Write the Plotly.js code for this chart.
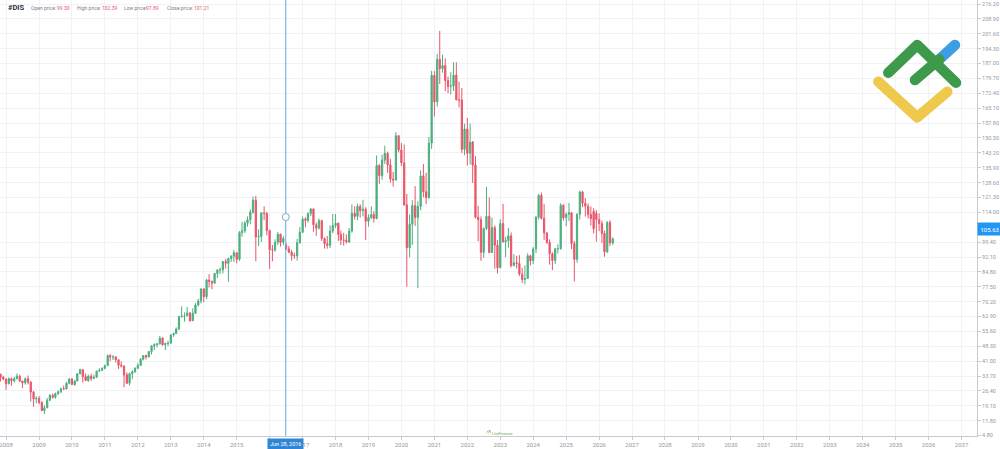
<!DOCTYPE html>
<html><head><meta charset="utf-8">
<script src="https://cdn.plot.ly/plotly-3.0.1.min.js"></script>
<style>html,body{margin:0;padding:0;background:#fff;overflow:hidden}#chart{width:1000px;height:449px}</style>
</head><body><div id="chart"></div>
<script>
const symbol = '#DIS';
const months = [
'2007-11','2007-12',
'2008-01','2008-02','2008-03','2008-04','2008-05','2008-06','2008-07','2008-08','2008-09','2008-10','2008-11','2008-12',
'2009-01','2009-02','2009-03','2009-04','2009-05','2009-06','2009-07','2009-08','2009-09','2009-10','2009-11','2009-12',
'2010-01','2010-02','2010-03','2010-04','2010-05','2010-06','2010-07','2010-08','2010-09','2010-10','2010-11','2010-12',
'2011-01','2011-02','2011-03','2011-04','2011-05','2011-06','2011-07','2011-08','2011-09','2011-10','2011-11','2011-12',
'2012-01','2012-02','2012-03','2012-04','2012-05','2012-06','2012-07','2012-08','2012-09','2012-10','2012-11','2012-12',
'2013-01','2013-02','2013-03','2013-04','2013-05','2013-06','2013-07','2013-08','2013-09','2013-10','2013-11','2013-12',
'2014-01','2014-02','2014-03','2014-04','2014-05','2014-06','2014-07','2014-08','2014-09','2014-10','2014-11','2014-12',
'2015-01','2015-02','2015-03','2015-04','2015-05','2015-06','2015-07','2015-08','2015-09','2015-10','2015-11','2015-12',
'2016-01','2016-02','2016-03','2016-04','2016-05','2016-06','2016-07','2016-08','2016-09','2016-10','2016-11','2016-12',
'2017-01','2017-02','2017-03','2017-04','2017-05','2017-06','2017-07','2017-08','2017-09','2017-10','2017-11','2017-12',
'2018-01','2018-02','2018-03','2018-04','2018-05','2018-06','2018-07','2018-08','2018-09','2018-10','2018-11','2018-12',
'2019-01','2019-02','2019-03','2019-04','2019-05','2019-06','2019-07','2019-08','2019-09','2019-10','2019-11','2019-12',
'2020-01','2020-02','2020-03','2020-04','2020-05','2020-06','2020-07','2020-08','2020-09','2020-10','2020-11','2020-12',
'2021-01','2021-02','2021-03','2021-04','2021-05','2021-06','2021-07','2021-08','2021-09','2021-10','2021-11','2021-12',
'2022-01','2022-02','2022-03','2022-04','2022-05','2022-06','2022-07','2022-08','2022-09','2022-10','2022-11','2022-12',
'2023-01','2023-02','2023-03','2023-04','2023-05','2023-06','2023-07','2023-08','2023-09','2023-10','2023-11','2023-12',
'2024-01','2024-02','2024-03','2024-04','2024-05','2024-06','2024-07','2024-08','2024-09','2024-10','2024-11','2024-12',
'2025-01','2025-02','2025-03','2025-04','2025-05','2025-06','2025-07','2025-08','2025-09','2025-10','2025-11','2025-12',
'2026-01','2026-02','2026-03','2026-04','2026-05','2026-06'
];
const opens = [
34.6,33.2,
32.3,30.0,32.4,31.4,32.4,33.6,31.2,30.4,32.4,30.7,25.9,22.5,
22.7,20.7,16.8,18.2,21.9,24.2,23.3,25.1,26.0,27.5,27.4,30.2,
32.3,29.6,31.3,34.9,36.8,33.4,31.5,33.7,32.5,33.1,36.1,36.5,
37.5,38.9,43.7,43.1,43.1,41.7,39.0,38.6,34.3,30.2,34.9,35.8,
37.5,38.9,42.0,43.8,43.1,45.7,48.5,49.1,49.5,52.3,49.1,49.7,
49.8,53.9,54.6,56.8,62.8,63.1,63.2,64.7,60.8,64.5,68.6,70.5,
76.4,72.6,80.8,80.1,79.3,84.0,85.7,85.9,89.9,89.0,91.4,92.5,
94.2,91.0,104.1,104.9,108.7,110.4,114.1,120.0,101.9,102.2,113.7,113.5,
105.1,95.8,95.5,99.3,103.3,99.30,97.9,96.1,94.5,92.9,92.7,99.1,
104.2,110.7,110.1,113.4,115.6,107.9,106.3,109.9,101.2,98.6,97.8,104.8,
107.5,108.7,103.2,100.4,100.3,99.5,104.8,113.6,112.0,116.9,114.8,115.5,
109.7,111.5,112.9,111.0,137.0,132.0,139.6,143.0,137.3,130.3,129.9,151.6,
144.6,138.3,117.7,96.6,108.2,117.3,111.5,116.9,131.9,124.1,121.3,148.0,
181.2,168.2,189.0,184.5,186.0,178.7,175.8,176.0,181.3,169.2,169.1,144.9,
154.9,143.0,148.5,137.2,111.6,110.4,94.4,106.1,112.1,94.3,106.5,97.9,
86.9,108.5,99.6,100.1,102.5,88.0,89.3,88.9,83.7,81.1,81.6,92.7,
90.3,96.1,111.6,122.4,111.1,103.9,99.3,93.7,90.4,96.2,96.2,117.5,
111.4,113.1,113.8,98.7,91.0,113.1,124.0,118.5,117.0,113.0,114.5,113.5,
110.5,108.5,103.7,94.7,109.0,99.0
];
const highs = [
34.9,33.9,
32.5,33.0,33.0,33.3,35.0,34.4,31.6,33.0,34.0,31.2,26.4,23.8,
23.9,21.4,19.4,22.9,24.9,25.1,25.6,26.6,28.0,29.0,30.9,32.7,
32.7,31.6,35.0,37.4,37.2,35.0,34.4,34.9,34.4,36.3,37.6,38.0,
39.3,44.3,44.5,44.0,43.5,41.9,40.9,39.0,35.5,35.4,36.5,38.0,
40.0,42.5,44.0,44.2,46.0,48.8,49.8,50.0,53.4,52.9,50.2,51.0,
54.2,55.0,57.6,63.3,67.9,64.9,67.6,65.1,66.9,69.5,71.6,76.8,
76.8,81.4,83.7,80.6,84.3,86.1,86.9,90.0,91.2,91.8,93.0,95.5,
94.5,104.8,109.4,109.7,112.0,115.4,121.7,122.1,105.7,114.1,117.0,114.2,
105.5,98.0,100.8,104.4,103.5,102.39,99.0,97.5,95.5,94.2,101.0,106.8,
111.9,111.6,114.0,116.1,116.0,109.0,111.0,110.4,101.6,102.4,107.6,113.2,
113.2,109.0,105.0,104.0,103.2,106.3,117.9,117.0,118.3,118.0,120.2,116.5,
113.0,117.0,114.6,141.9,137.7,142.3,146.7,143.8,140.4,133.9,153.4,151.8,
148.0,147.3,123.0,112.9,120.0,126.9,119.4,134.6,137.7,133.4,151.0,183.4,
183.3,191.6,203.0,191.3,189.5,180.6,182.7,187.6,187.6,178.1,175.0,157.5,
160.3,157.5,149.0,141.6,117.3,112.0,106.6,126.5,121.3,111.4,107.6,100.5,
110.6,118.2,102.0,106.3,104.2,93.5,92.7,93.0,86.8,88.0,93.9,93.2,
97.0,112.2,123.0,123.7,118.2,104.3,100.8,94.4,96.3,98.4,118.5,118.0,
113.9,118.6,114.0,100.0,113.5,124.7,124.7,121.0,118.4,116.8,116.0,115.2,
113.5,110.0,105.0,109.8,110.2,101.8
];
const lows = [
31.0,31.6,
26.9,29.5,28.9,30.5,32.2,31.0,27.9,29.5,29.6,21.2,18.6,20.4,
19.9,16.6,15.14,17.9,21.4,22.6,22.6,24.3,25.3,27.0,27.2,29.7,
29.3,28.9,31.1,34.5,30.5,31.3,30.9,31.4,32.2,33.1,35.8,36.5,
37.0,38.5,41.0,41.6,40.3,37.2,37.9,28.2,29.9,29.1,32.1,35.3,
37.3,38.6,41.4,41.8,42.8,44.3,46.5,47.8,49.2,48.6,46.5,48.4,
49.8,52.9,54.4,56.2,62.4,60.4,63.2,60.4,60.8,64.1,67.9,69.3,
69.9,71.5,77.1,76.3,78.9,81.8,83.7,84.0,86.4,80.0,89.7,89.7,
89.0,90.2,102.0,103.9,107.0,108.1,113.3,90.0,97.4,99.4,110.2,102.8,
86.3,90.0,94.6,98.0,97.2,97.89,95.5,94.0,90.3,91.2,90.3,98.6,
103.9,106.7,109.0,112.2,104.5,102.5,105.6,100.0,96.2,96.2,96.5,103.8,
106.3,100.0,98.0,97.7,98.7,99.0,104.0,110.5,110.2,111.5,112.0,100.4,
107.0,110.7,109.0,110.6,128.0,130.0,137.7,133.3,128.6,126.6,129.6,143.4,
136.7,117.2,77.5,92.0,98.0,107.3,76.8,115.0,121.4,118.0,120.6,145.1,
161.0,165.9,177.0,182.5,173.4,172.5,171.8,173.5,169.0,165.5,143.1,142.0,
137.0,137.5,128.4,111.0,99.8,90.2,91.7,105.3,94.0,94.2,86.3,84.07,
86.5,99.1,92.1,96.7,87.0,87.4,86.5,82.8,79.3,78.73,81.3,88.0,
88.6,94.1,110.5,110.5,100.5,98.5,88.3,85.6,88.7,93.9,95.7,110.0,
107.2,109.7,96.0,80.1,89.3,110.5,116.5,111.9,111.0,107.5,103.7,99.6,
104.8,99.0,92.2,94.0,97.5,98.0
];
const closes = [
33.15,32.28,
29.93,32.41,31.38,32.43,33.60,31.20,30.35,32.35,30.69,25.90,22.51,22.69,
20.68,16.77,18.16,21.90,24.22,23.33,25.12,26.04,27.46,27.37,30.21,32.25,
29.55,31.24,34.91,36.84,33.42,31.50,33.69,32.46,33.10,36.11,36.51,37.51,
38.87,43.74,43.09,43.10,41.69,39.04,38.62,34.26,30.16,34.88,35.84,37.50,
38.90,42.01,43.78,43.11,45.71,48.50,49.14,49.47,52.28,49.07,49.66,49.79,
53.88,54.59,56.80,62.84,63.08,63.15,64.65,60.83,64.49,68.59,70.54,76.40,
72.61,80.84,80.07,79.34,84.01,85.74,85.88,89.88,89.03,91.38,92.51,94.19,
90.96,104.09,104.89,108.72,110.38,114.14,120.00,101.91,102.20,113.74,113.47,105.08,
95.82,95.53,99.31,103.26,99.22,101.21,96.08,94.47,92.86,92.69,99.12,104.22,
110.65,110.10,113.39,115.60,107.94,106.25,109.93,101.19,98.57,97.81,104.83,107.51,
108.67,103.16,100.44,100.33,99.47,104.81,113.56,112.02,116.94,114.83,115.49,109.65,
111.52,112.86,111.03,136.97,132.04,139.64,143.01,137.26,130.32,129.92,151.58,144.63,
138.31,117.65,96.60,108.15,117.30,111.51,116.94,131.87,124.08,121.25,148.00,181.18,
168.17,189.04,184.52,186.02,178.65,175.77,176.02,181.30,169.17,169.07,144.90,154.89,
142.97,148.46,137.16,111.63,110.43,94.40,106.10,112.07,94.33,106.54,97.87,86.88,
108.49,99.62,100.13,102.50,87.96,89.28,88.89,83.74,81.05,81.59,92.69,90.29,
96.05,111.58,122.36,111.10,103.91,99.29,93.68,90.37,96.19,96.20,117.46,111.35,
113.07,113.83,98.70,90.95,113.05,124.01,118.5,117.0,113.0,111.0,106.0,110.5,
108.5,103.7,94.7,109.0,99.0,101.0
];
const yTickVals = [4.80,11.80,19.10,26.40,33.70,41.00,48.30,55.60,62.90,70.20,77.50,84.80,92.10,99.40,114.00,121.30,128.60,135.90,143.20,150.50,157.80,165.10,172.40,179.70,187.00,194.30,201.60,208.90,216.20];
const xTickYears = [2008,2009,2010,2011,2012,2013,2014,2015,2016,2017,2018,2019,2020,2021,2022,2023,2024,2025,2026,2027,2028,2029,2030,2031,2032,2033,2034,2035,2036,2037];
const lastPrice = 105.63;
const crosshairDate = '2016-06-28';
const crosshairLabel = 'Jun 28, 2016';
const crosshairPrice = 111.7;
const hoverMonth = '2016-06';
const coveredYear = 2016; // hidden under the crosshair date label

const UP = '#4caf7f', DOWN = '#e8566a';
const W = 1000, H = 449, M = {l:0, r:23, t:0, b:13};
const PW = W - M.l - M.r, PH = H - M.t - M.b;
const px = x => x / PW, py = y => 1 - y / PH;
const FONT = 'Roboto, "Open Sans", sans-serif';
const TXT = '#9598a1';

const hi = months.indexOf(hoverMonth);
const legendItems = [
  ['Open price:', opens[hi], 30, 56],
  ['High price:', highs[hi], 76, 100.5],
  ['Low price:', lows[hi], 123, 145],
  ['Close price:', closes[hi], 166, 192.5]
];
const annotations = [
  {xref:'paper', yref:'paper', x:px(7), y:py(7.5), xanchor:'left', yanchor:'middle', text:'<b>'+symbol+'</b>', showarrow:false, font:{size:7.5, color:'#2a2e39', family:FONT}, borderpad:0}
];
legendItems.forEach(([lab, val, x1, x2]) => {
  annotations.push({xref:'paper', yref:'paper', x:px(x1), y:py(7.5), xanchor:'left', yanchor:'middle', text:lab, showarrow:false, font:{size:5, color:'#7b7f8a', family:FONT}, borderpad:0});
  annotations.push({xref:'paper', yref:'paper', x:px(x2), y:py(7.5), xanchor:'left', yanchor:'middle', text:val.toFixed(2), showarrow:false, font:{size:5, color:'#e8566a', family:FONT}, borderpad:0});
});
annotations.push({xref:'paper', yref:'y', x:1, y:lastPrice, xanchor:'left', yanchor:'middle', text:lastPrice.toFixed(2), showarrow:false, bgcolor:'#2196f3', font:{size:6, color:'#ffffff', family:FONT}, borderpad:2.5});
annotations.push({xref:'x', yref:'paper', x:crosshairDate, y:0, xanchor:'center', yanchor:'top', yshift:-1.5, text:crosshairLabel, showarrow:false, bgcolor:'#2f86d6', font:{size:5.5, color:'#ffffff', family:FONT}, borderpad:2});
annotations.push({xref:'paper', yref:'paper', x:px(491), y:py(433.5), xanchor:'left', yanchor:'middle', text:'LiteFinance', showarrow:false, font:{size:4, color:'#6aae5a', family:FONT}, borderpad:0});

const logoSvg = '<svg xmlns="http://www.w3.org/2000/svg" viewBox="0 0 110 110"><g fill="none" stroke-linecap="round" stroke-linejoin="round" stroke-width="10.5">'
 + '<path d="M18.3 51.7 L57.3 87.3 L87.3 61.7" stroke="#efc94c"/>'
 + '<path d="M79.3 29.3 L95 15" stroke="#3c9ee5"/>'
 + '<path d="M28.3 42.7 L57.3 15 L96 52.7" stroke="#3d9a4b"/>'
 + '<path d="M55 50 L79.3 29.3" stroke="#3d9a4b"/>'
 + '</g></svg>';
const logoURI = 'data:image/svg+xml;charset=utf-8,' + encodeURIComponent(logoSvg);

const trace = {
  type:'candlestick', x:months, open:opens, high:highs, low:lows, close:closes,
  increasing:{line:{color:UP, width:1}, fillcolor:UP},
  decreasing:{line:{color:DOWN, width:1}, fillcolor:DOWN},
  whiskerwidth:0, hoverinfo:'skip', showlegend:false
};

const layout = {
  width:W, height:H, margin:M, paper_bgcolor:'#ffffff', plot_bgcolor:'#ffffff',
  font:{family:FONT, color:TXT},
  showlegend:false, dragmode:false,
  xaxis:{type:'date', range:['2007-10-26','2037-06-21'], rangeslider:{visible:false},
    tickvals:xTickYears.map(y => y + '-01-01'), ticktext:xTickYears.map(y => y === coveredYear ? '' : String(y)),
    tickfont:{size:6, color:TXT, family:FONT}, ticks:'outside', ticklen:3, tickcolor:'#c9cbd1',
    ticklabeloverflow:'allow',
    showline:true, linecolor:'#c9cbd1', linewidth:1, showgrid:true, gridcolor:'#f1f2f5', gridwidth:1,
    zeroline:false, fixedrange:true, automargin:false},
  yaxis:{side:'right', range:[4.31, 218.16], tickvals:yTickVals, ticktext:yTickVals.map(v => v.toFixed(2)),
    tickfont:{size:5.5, color:TXT, family:FONT}, ticks:'outside', ticklen:3, tickcolor:'#c9cbd1',
    ticklabeloverflow:'allow',
    showline:true, linecolor:'#c9cbd1', linewidth:1, showgrid:true, gridcolor:'#f1f2f5', gridwidth:1,
    zeroline:false, fixedrange:true, automargin:false},
  shapes:[
    {type:'line', xref:'x', yref:'paper', x0:crosshairDate, x1:crosshairDate, y0:0, y1:1, line:{color:'#5aaedc', width:1}, layer:'above'},
    {type:'circle', xref:'x', yref:'y', xsizemode:'pixel', ysizemode:'pixel', xanchor:crosshairDate, yanchor:crosshairPrice, x0:-3.5, x1:3.5, y0:-3.5, y1:3.5, line:{color:'#7fa6c9', width:1}, fillcolor:'#ffffff', layer:'above'}
  ],
  images:[
    {source:logoURI, xref:'paper', yref:'paper', x:px(860), y:py(30), sizex:110/PW, sizey:110/PH, xanchor:'left', yanchor:'top', sizing:'stretch', layer:'above'},
    {source:logoURI, xref:'paper', yref:'paper', x:px(485.5), y:py(429.5), sizex:6/PW, sizey:6/PH, xanchor:'left', yanchor:'top', sizing:'stretch', layer:'above'}
  ],
  annotations:annotations
};
Plotly.newPlot('chart', [trace], layout, {staticPlot:true, displayModeBar:false});
</script></body></html>
